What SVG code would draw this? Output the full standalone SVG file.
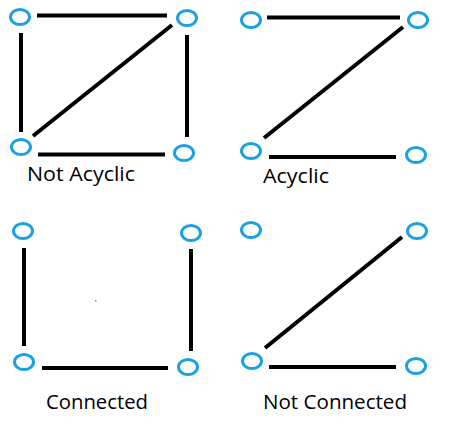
<svg xmlns="http://www.w3.org/2000/svg" width="468" height="440" viewBox="0 0 468 440">
<style>
.n{fill:#fff;stroke:#1ba1e2;stroke-width:3}
.e{stroke:#000;stroke-width:4;fill:none}
.t{font-family:"Open Sans","Noto Sans",sans-serif;font-size:19.5px;font-weight:500;fill:#000}
</style>
<rect width="468" height="440" fill="#fff"/>
<g id="connectors">
<line class="e" x1="37" y1="15.5" x2="167" y2="15.5"/>
<line class="e" x1="21" y1="33" x2="21" y2="132"/>
<line class="e" x1="187" y1="35" x2="187" y2="137"/>
<line class="e" x1="33" y1="136" x2="172" y2="25"/>
<line class="e" x1="38" y1="154.5" x2="165" y2="154.5"/>
<line class="e" x1="267" y1="17.5" x2="400" y2="17.5"/>
<line class="e" x1="264" y1="138" x2="403" y2="27"/>
<line class="e" x1="269" y1="157" x2="396" y2="157"/>
<line class="e" x1="24" y1="248" x2="24" y2="346"/>
<line class="e" x1="191" y1="249" x2="191" y2="351"/>
<line class="e" x1="42" y1="368" x2="168" y2="368"/>
<line class="e" x1="265" y1="348" x2="402" y2="237"/>
<line class="e" x1="269" y1="367" x2="396" y2="367"/>
</g>
<g id="g1-n1"><ellipse class="n" cx="20" cy="17" rx="9.5" ry="7.5"/></g>
<g id="g1-n2"><ellipse class="n" cx="187" cy="18" rx="9.5" ry="7.5"/></g>
<g id="g1-n3"><ellipse class="n" cx="21" cy="147" rx="9.5" ry="7.5"/></g>
<g id="g1-n4"><ellipse class="n" cx="184" cy="153" rx="9.5" ry="7.5"/></g>
<g id="g2-n1"><ellipse class="n" cx="251" cy="20" rx="9.5" ry="7.5"/></g>
<g id="g2-n2"><ellipse class="n" cx="418" cy="20" rx="9.5" ry="7.5"/></g>
<g id="g2-n3"><ellipse class="n" cx="251" cy="151" rx="9.5" ry="7.5"/></g>
<g id="g2-n4"><ellipse class="n" cx="416" cy="155" rx="9.5" ry="7.5"/></g>
<g id="g3-n1"><ellipse class="n" cx="23" cy="231" rx="9.5" ry="7.5"/></g>
<g id="g3-n2"><ellipse class="n" cx="191" cy="233" rx="9.5" ry="7.5"/></g>
<g id="g3-n3"><ellipse class="n" cx="24" cy="362" rx="9.5" ry="7.5"/></g>
<g id="g3-n4"><ellipse class="n" cx="188" cy="367" rx="9.5" ry="7.5"/></g>
<g id="g4-n1"><ellipse class="n" cx="251" cy="230" rx="9.5" ry="7.5"/></g>
<g id="g4-n2"><ellipse class="n" cx="417" cy="231" rx="9.5" ry="7.5"/></g>
<g id="g4-n3"><ellipse class="n" cx="252" cy="361" rx="9.5" ry="7.5"/></g>
<g id="g4-n4"><ellipse class="n" cx="416" cy="366" rx="9.5" ry="7.5"/></g>
<rect x="95" y="300" width="1.5" height="1.5" fill="#888"/>
<g id="labels">
<text class="t" x="27" y="180.5" textLength="108" lengthAdjust="spacingAndGlyphs">Not Acyclic</text>
<text class="t" x="263" y="183" textLength="66" lengthAdjust="spacingAndGlyphs">Acyclic</text>
<text class="t" x="46" y="409" textLength="102" lengthAdjust="spacingAndGlyphs">Connected</text>
<text class="t" x="263" y="409" textLength="144" lengthAdjust="spacingAndGlyphs">Not Connected</text>
</g>
</svg>
